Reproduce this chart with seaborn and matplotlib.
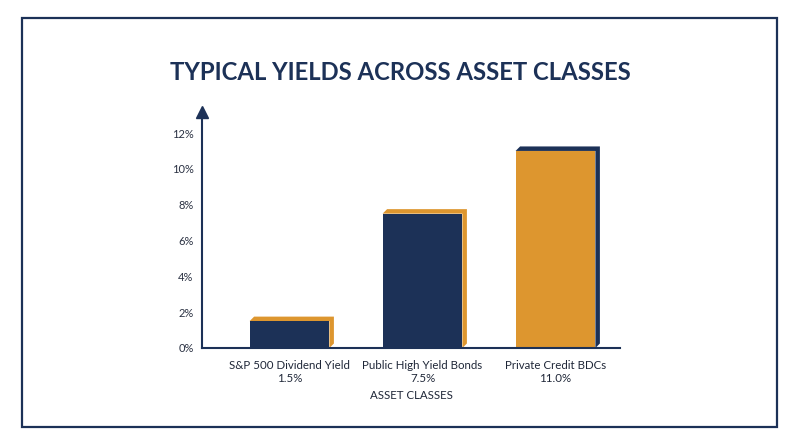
import matplotlib
matplotlib.use("Agg")
import matplotlib.pyplot as plt
import seaborn as sns
import pandas as pd
import numpy as np
from matplotlib.patches import Polygon, Rectangle

categories = ["S&P 500 Dividend Yield", "Public High Yield Bonds", "Private Credit BDCs"]
yields = [1.5, 7.5, 11.0]
value_labels = ["1.5%", "7.5%", "11.0%"]
yticks = [0, 2, 4, 6, 8, 10, 12]
ytick_labels = ["0%", "2%", "4%", "6%", "8%", "10%", "12%"]

NAVY = "#1c3157"
ORANGE = "#dd962f"
face_colors = [NAVY, NAVY, ORANGE]
side_colors = [ORANGE, ORANGE, NAVY]

sns.set_theme(style="white")
plt.rcParams["font.family"] = ["Lato", "DejaVu Sans"]

df = pd.DataFrame({"cat": categories, "val": yields})

fig = plt.figure(figsize=(8, 4.47), dpi=100)
ax = fig.add_axes([0.2525, 0.2215, 0.5225, 0.529])

sns.barplot(data=df, x="cat", y="val", hue="cat", palette=face_colors,
            width=0.6, ax=ax, legend=False, saturation=1, zorder=3, linewidth=0)

ax.set_xlim(-0.658, 2.485)
ax.set_ylim(0, 13.2)
ax.set_yticks(yticks)
ax.set_yticklabels(ytick_labels, fontsize=8, color="#2a3142")
ax.set_xticks(range(len(categories)))
ax.set_xticklabels([f"{c}\n{v}" for c, v in zip(categories, value_labels)],
                   fontsize=8.3, color="#1f2738", linespacing=1.15)
ax.tick_params(axis="y", length=0, pad=6)
ax.tick_params(axis="x", length=0, pad=9)
ax.set_xlabel("ASSET CLASSES", fontsize=8.3, color="#1f2738", labelpad=4.5)
ax.set_ylabel("")

for s in ["top", "right"]:
    ax.spines[s].set_visible(False)
for s in ["left", "bottom"]:
    ax.spines[s].set_color(NAVY)
    ax.spines[s].set_linewidth(1.5)
ax.spines["left"].set_zorder(5)
ax.spines["bottom"].set_zorder(5)

# arrow at top of y-axis
ax.plot([0], [1], marker="^", markersize=8, color=NAVY, transform=ax.transAxes,
        clip_on=False, zorder=6)

# 3D extrusion behind each bar
fig.canvas.draw()
inv = ax.transData.inverted()
p0 = inv.transform((0, 0))
p1 = inv.transform((4.5, 4.5))
dx, dy = p1[0] - p0[0], p1[1] - p0[1]
for patch, sc in zip(ax.patches, side_colors):
    x0 = patch.get_x()
    x1 = x0 + patch.get_width()
    h = patch.get_height()
    poly = Polygon([(x0, h), (x0 + dx, h + dy), (x1 + dx, h + dy), (x1 + dx, dy), (x1, 0), (x1, h)],
                   closed=True, facecolor=sc, edgecolor="none", zorder=2)
    ax.add_patch(poly)

fig.text(0.5, 0.838, "TYPICAL YIELDS ACROSS ASSET CLASSES", ha="center", va="center",
         fontsize=17.2, fontweight="bold", color=NAVY)

fig.patches.append(Rectangle((22 / 800, 1 - 427 / 447), 755 / 800, 409 / 447,
                             transform=fig.transFigure, fill=False,
                             edgecolor=NAVY, linewidth=1.6))

fig.savefig("out.png", dpi=100)
